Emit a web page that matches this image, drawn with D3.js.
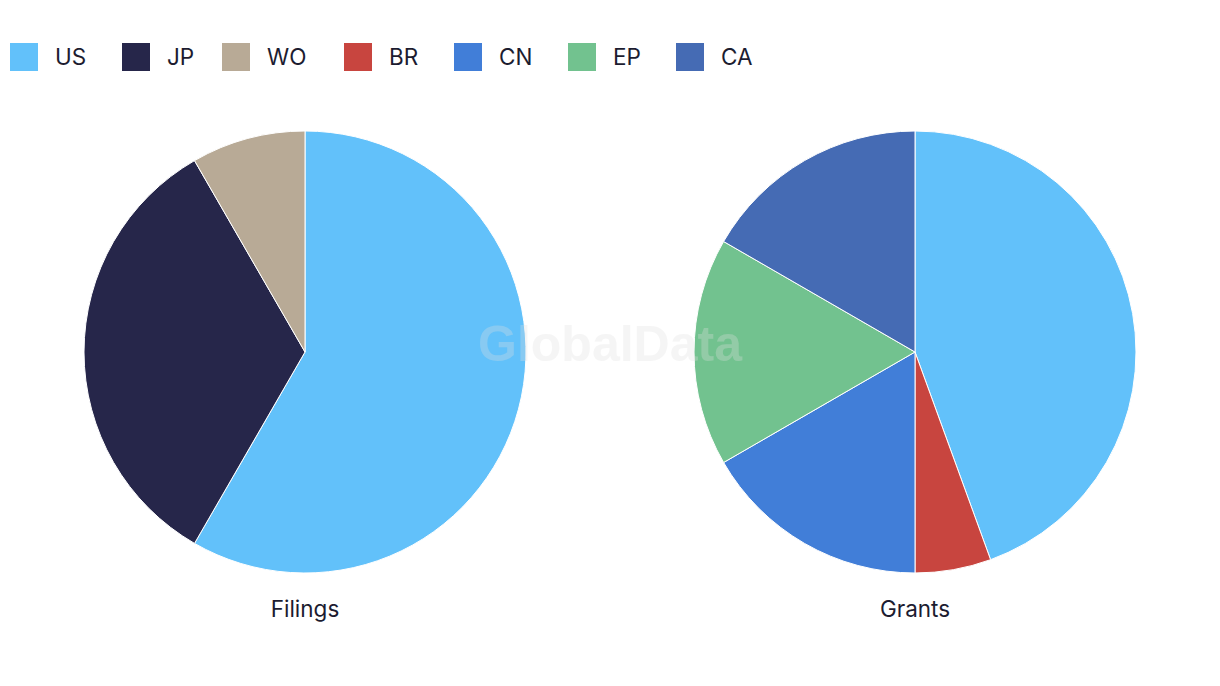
<!DOCTYPE html>
<html><head><meta charset="utf-8">
<script src="https://cdn.jsdelivr.net/npm/d3@7"></script>
<style>body{margin:0;background:#fff;} svg{display:block;}</style>
</head><body>
<svg id="chart" width="1220" height="686"></svg>
<script>
const legendCategories = ["US","JP","WO","BR","CN","EP","CA"];
const legendColors = ["#62C1FA","#26264A","#B8AA96","#C8453F","#417ED8","#72C28F","#456BB4"];
const filingsCategories = ["US","JP","WO"];
const filingsValues = [7,4,1];
const grantsCategories = ["US","BR","CN","EP","CA"];
const grantsValues = [8,1,3,3,3];
const pieTitles = ["Filings","Grants"];

const svg = d3.select("#chart");
const color = d3.scaleOrdinal().domain(legendCategories).range(legendColors);
const font = "Inter, 'Noto Sans', sans-serif";
const textColor = "#1c1c30";

// legend
const legendX = [10,122,222,344,454,568,676];
const lg = svg.append("g");
legendCategories.forEach((c,i)=>{
  const g = lg.append("g").attr("transform",`translate(${legendX[i]},43)`);
  g.append("rect").attr("width",28).attr("height",28).attr("fill",color(c));
  g.append("text").attr("x",45).attr("y",22).attr("font-family",font).attr("font-size",22.5)
   .attr("fill",textColor).text(c);
});

const radius = 221;
const pie = d3.pie().sort(null).value(d=>d.v);
const arc = d3.arc().innerRadius(0).outerRadius(radius);
const pies = [
  {cx:305, cats:filingsCategories, vals:filingsValues, title:pieTitles[0]},
  {cx:915, cats:grantsCategories, vals:grantsValues, title:pieTitles[1]}
];
pies.forEach(p=>{
  const data = p.cats.map((c,i)=>({c, v:p.vals[i]}));
  const g = svg.append("g").attr("transform",`translate(${p.cx},352)`);
  g.selectAll("path").data(pie(data)).join("path")
    .attr("d",arc).attr("fill",d=>color(d.data.c))
    .attr("stroke","#fff").attr("stroke-width",1);
  svg.append("text").attr("x",p.cx).attr("y",617).attr("text-anchor","middle")
    .attr("font-family",font).attr("font-size",22.5).attr("fill",textColor).text(p.title);
});

// watermark
svg.append("text").attr("x",610).attr("y",361).attr("text-anchor","middle")
  .attr("font-family","'Liberation Sans', Arial, sans-serif").attr("font-weight","bold")
  .attr("font-size",50).attr("fill","#e0e0e0").attr("opacity",0.3).text("GlobalData");
</script>
</body></html>
